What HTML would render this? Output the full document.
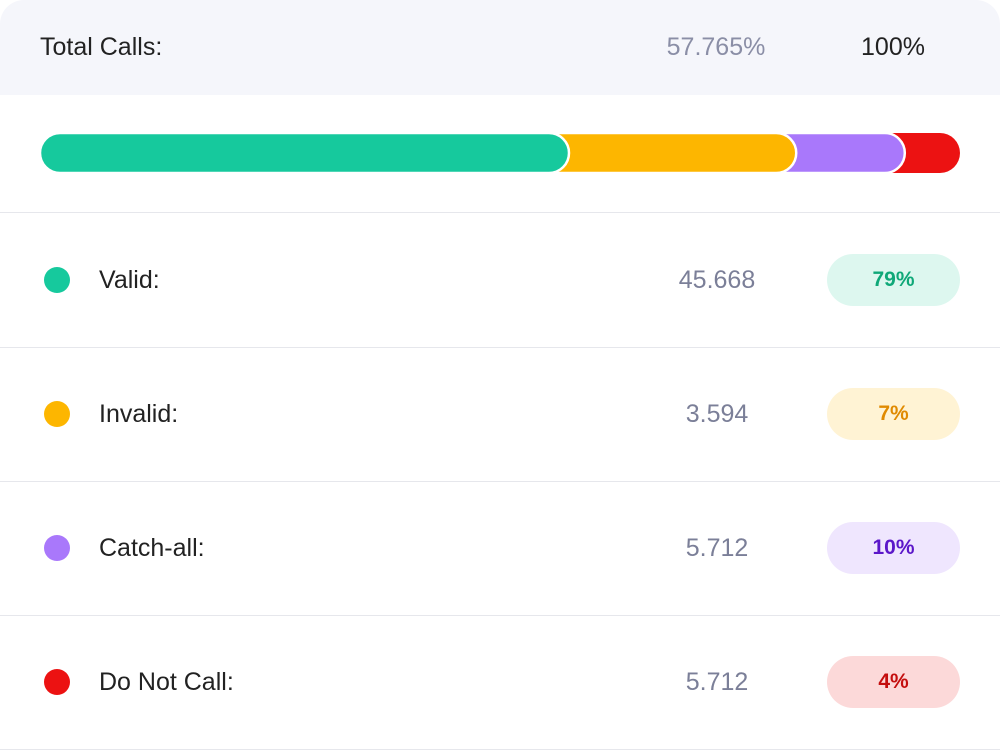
<!DOCTYPE html>
<html><head><meta charset="utf-8"><style>
body{margin:0;width:1000px;height:750px;background:#fff;font-family:"Liberation Sans",sans-serif;overflow:hidden;position:relative}
.hdr{position:absolute;left:0;top:0;width:1000px;height:95px;background:#f5f6fb;border-radius:24px 24px 0 0}
.t{position:absolute;font-size:25px;line-height:30px}
.div{position:absolute;left:0;width:1000px;height:1px;background:#e6e7ec}
.dot{position:absolute;left:44px;width:26px;height:26px;border-radius:50%}
.pill{position:absolute;left:827px;width:133px;height:52px;border-radius:26px;font-size:21px;font-weight:bold;text-align:center;line-height:52px}
</style></head><body>
<div class="hdr"></div>
<div class="t" style="left:40px;top:32px;color:#222">Total Calls:</div>
<div class="t" style="left:616px;width:200px;text-align:center;top:32px;color:#8a8ea6">57.765%</div>
<div class="t" style="left:843px;width:100px;text-align:center;top:32px;color:#222">100%</div>
<svg id="bar" width="1000" height="200" style="position:absolute;left:0;top:0"></svg>
<div id="rows"></div>
<script>
const categories=["Valid","Invalid","Catch-all","Do Not Call"];
const barShares=[57.5,24.7,11.8,6.0];
const counts=["45.668","3.594","5.712","5.712"];
const pcts=[79,7,10,4];
const colors=["#16c99d","#fdb600","#a978fb","#ec1212"];
const pillBg=["#ddf7ef","#fff3d4","#efe6fe","#fcd9d9"];
const pillFg=["#0fa878","#e08a00","#5b17c9","#c40e0e"];
const NS="http://www.w3.org/2000/svg",svg=document.getElementById('bar');
const x0=40,W=920,total=barShares.reduce((a,b)=>a+b,0);
const xs=v=>x0+v/total*W;
let cum=[],c=0;barShares.forEach(v=>{c+=v;cum.push(c)});
for(let i=categories.length-1;i>=0;i--){
 const r=document.createElementNS(NS,'rect');
 const start=i===0?x0:xs(cum[i-1])-40;
 r.setAttribute('x',start);r.setAttribute('y',133);
 r.setAttribute('width',xs(cum[i])-start);r.setAttribute('height',40);
 r.setAttribute('rx',20);r.setAttribute('fill',colors[i]);
 r.setAttribute('stroke',i===categories.length-1?'none':'#fff');r.setAttribute('stroke-width',2.5);
 
 
 svg.appendChild(r);
}
const rows=document.getElementById('rows');
let h='<div class="div" style="top:212px"></div>';
categories.forEach((n,i)=>{
 const cy=280+i*134;
 h+=`<div class="dot" style="top:${cy-13}px;background:${colors[i]}"></div>`;
 h+=`<div class="t" style="left:99px;top:${cy-15}px;color:#222">${n}:</div>`;
 h+=`<div class="t" style="left:617px;width:200px;text-align:center;top:${cy-15}px;color:#7b7f98">${counts[i]}</div>`;
 h+=`<div class="pill" style="top:${cy-26}px;background:${pillBg[i]};color:${pillFg[i]}">${pcts[i]}%</div>`;
 h+=`<div class="div" style="top:${cy+67}px"></div>`;
});
rows.innerHTML=h;
</script>
</body></html>
